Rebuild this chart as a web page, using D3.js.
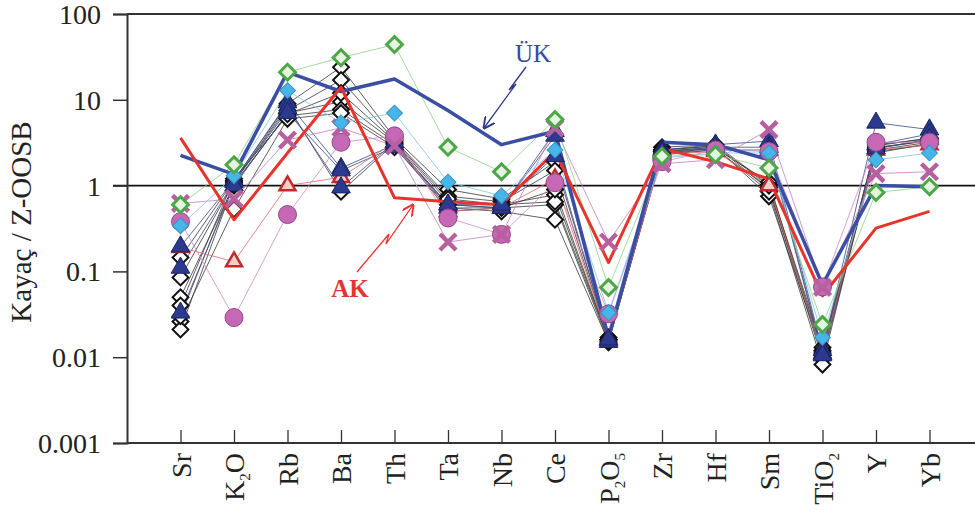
<!DOCTYPE html>
<html>
<head>
<meta charset="utf-8">
<script src="https://cdn.jsdelivr.net/npm/d3@7"></script>
<style>
  body { margin: 0; background: #fff; }
  svg { display: block; }
  text { font-family: "Liberation Serif", "Times New Roman", serif; }
</style>
</head>
<body>
<div id="chart"></div>
<script>
const categories = ["Sr", "K2O", "Rb", "Ba", "Th", "Ta", "Nb", "Ce", "P2O5", "Zr", "Hf", "Sm", "TiO2", "Y", "Yb"];
// tick label parts: [text, isSubscript]
const tickLabels = [
  [["Sr", 0]], [["K", 0], ["2", 1], ["O", 0]], [["Rb", 0]], [["Ba", 0]], [["Th", 0]],
  [["Ta", 0]], [["Nb", 0]], [["Ce", 0]], [["P", 0], ["2", 1], ["O", 0], ["5", 1]],
  [["Zr", 0]], [["Hf", 0]], [["Sm", 0]], [["TiO", 0], ["2", 1]], [["Y", 0]], [["Yb", 0]]
];
const yTicks = [0.001, 0.01, 0.1, 1, 10, 100];

// reference curves
const ukValues = [2.25, 1.35, 21, 12.5, 17.5, 7.5, 3.0, 4.3, 0.017, 3.2, 3.0, 2.0, 0.07, 1.0, 0.97];
const akValues = [3.6, 0.4, 2.4, 14, 0.72, 0.65, 0.6, 2.5, 0.127, 2.7, 1.9, 1.2, 0.052, 0.32, 0.5];

// black open diamonds
const black1 = [0.145, 1.15, 9.0, 24, 3.6, 0.9, 0.7, 1.9, 0.017, 2.8, 3.0, 1.03, 0.013, 2.9, 3.6];
const black2 = [0.085, 1.1, 7.5, 17, 3.4, 0.75, 0.65, 1.5, 0.016, 2.6, 2.9, 0.9, 0.012, 2.7, 3.4];
const black3 = [0.05, 1.0, 7.0, 9.5, 3.2, 0.65, 0.6, 0.78, 0.016, 2.5, 2.8, 0.75, 0.011, 2.6, 3.2];
const black4 = [0.04, 1.2, 6.5, 7.7, 3.0, 0.6, 0.55, 0.6, 0.015, 2.4, 2.7, 1.1, 0.0105, 2.5, 3.0];
const black5 = [0.026, 0.53, 6.0, 7.0, 2.8, 0.55, 0.5, 0.4, 0.015, 2.3, 2.6, 0.95, 0.0095, 2.4, 3.1];
const black6 = [0.021, 1.05, 6.8, 12, 3.3, 0.7, 0.6, 0.65, 0.016, 2.5, 2.7, 0.85, 0.0082, 2.8, 3.3];
const black7 = [0.03, 1.1, 8.5, 0.85, 3.1, 0.5, 0.55, 0.9, 0.016, 2.6, 2.9, 1.0, 0.0115, 3.0, 3.5];

// navy filled triangles
const navy1 = [0.195, 1.15, 9.3, 1.6, 3.0, 0.6, 0.55, 4.3, 0.016, 2.6, 3.0, 3.3, 0.012, 5.4, 4.5];
const navy2 = [0.11, 1.1, 8.0, 0.95, 3.2, 0.55, 0.55, 3.8, 0.015, 2.5, 2.8, 2.8, 0.011, 3.0, 4.0];
const navy3 = [0.033, 1.0, 7.0, 1.5, 2.8, 0.6, 0.6, 2.2, 0.016, 2.4, 2.6, 2.6, 0.0105, 2.7, 3.5];

const redTri = [0.19, 0.13, 1.0, 1.25, 3.2, 0.5, 0.55, 1.2, 0.016, 2.3, 2.5, 1.0, 0.011, 2.6, 3.0];
const pinkCircle = [0.38, 0.029, 0.46, 3.2, 3.8, 0.42, 0.27, 1.08, 0.032, 1.9, 2.6, 2.5, 0.066, 3.2, 3.2];
const purpleX = [0.62, 0.7, 3.4, 4.7, 2.9, 0.22, 0.27, 4.7, 0.22, 1.8, 2.0, 4.5, 0.065, 1.38, 1.45];
const cyanDiamond = [0.34, 1.3, 12.8, 5.4, 7.0, 1.1, 0.76, 2.6, 0.033, 2.1, 2.4, 2.4, 0.017, 2.0, 2.4];
const greenDiamond = [0.6, 1.75, 21, 31, 44, 2.8, 1.45, 5.9, 0.065, 2.2, 2.3, 1.6, 0.024, 0.83, 0.97];

const W = 975, H = 519;
const svg = d3.select("#chart").append("svg").attr("width", W).attr("height", H);

const x = d3.scalePoint().domain(categories).range([127, 983]).padding(1);
const y = d3.scaleLog().domain([0.001, 100]).range([443, 14]);

const line = d3.line().x((d, i) => x(categories[i])).y(d => y(d));

// frame lines
svg.append("line").attr("x1", 127).attr("x2", W).attr("y1", y(100)).attr("y2", y(100))
  .attr("stroke", "#333").attr("stroke-width", 2);
svg.append("line").attr("x1", 113).attr("x2", W).attr("y1", y(1)).attr("y2", y(1))
  .attr("stroke", "#111").attr("stroke-width", 1.6);

// axes
const yAxis = svg.append("g").attr("transform", "translate(127,0)")
  .call(d3.axisLeft(y).tickValues(yTicks).tickSize(14).tickPadding(12).tickFormat(d3.format("~g")));
yAxis.select(".domain").attr("stroke", "#333").attr("stroke-width", 2);
yAxis.selectAll(".tick line").attr("stroke", "#333").attr("stroke-width", 1.5);
yAxis.selectAll(".tick text").attr("font-size", 28).attr("fill", "#222").attr("dy", "0.34em");

const xAxis = svg.append("g").attr("transform", "translate(0,443)")
  .call(d3.axisTop(x).tickSize(13).tickFormat(""));
xAxis.select(".domain").attr("d", "M127,0H" + W).attr("stroke", "#333").attr("stroke-width", 2);
xAxis.selectAll(".tick line").attr("stroke", "#333").attr("stroke-width", 1.3);

// x labels, rotated
categories.forEach((c, i) => {
  const t = svg.append("text")
    .attr("transform", `translate(${x(c) + 10},453) rotate(-90)`)
    .attr("text-anchor", "end")
    .attr("font-size", 28)
    .attr("fill", "#222");
  let shifted = false;
  tickLabels[i].forEach(p => {
    const ts = t.append("tspan").text(p[0]);
    if (p[1]) {
      ts.attr("font-size", 15).attr("dy", 6);
      shifted = true;
    } else if (shifted) {
      ts.attr("dy", -6);
      shifted = false;
    }
  });
});

// y title
svg.append("text")
  .attr("transform", "translate(31,222) rotate(-90)")
  .attr("text-anchor", "middle")
  .attr("font-size", 29)
  .attr("fill", "#222")
  .text("Kayaç / Z-OOSB");

// series
const blackSeries = [black1, black2, black3, black4, black5, black6, black7];
const navySeries = [navy1, navy2, navy3];

function thinLine(vals, color, w) {
  svg.append("path").datum(vals).attr("d", line)
    .attr("fill", "none").attr("stroke", color).attr("stroke-width", w).attr("opacity", 0.9);
}

blackSeries.forEach(s => thinLine(s, "#3a3a3a", 0.9));
navySeries.forEach(s => thinLine(s, "#3c4a8c", 0.9));
thinLine(redTri, "#e06a6a", 0.9);
thinLine(pinkCircle, "#d48ac8", 0.9);
thinLine(purpleX, "#c880bb", 0.9);
thinLine(cyanDiamond, "#80c8ea", 0.9);
thinLine(greenDiamond, "#8ed48a", 0.9);

const diamond = d3.symbol(d3.symbolSquare, 125);
const triangle = d3.symbol(d3.symbolTriangle, 150);

function markers(vals, drawFn) {
  const g = svg.append("g");
  vals.forEach((v, i) => drawFn(g, x(categories[i]), y(v)));
}

blackSeries.forEach(s => markers(s, (g, cx, cy) => {
  g.append("path").attr("d", diamond).attr("transform", `translate(${cx},${cy}) rotate(45)`)
    .attr("fill", "#fff").attr("stroke", "#111").attr("stroke-width", 2);
}));

// thick reference lines
svg.append("path").datum(ukValues).attr("d", line)
  .attr("fill", "none").attr("stroke", "#3a4fa3").attr("stroke-width", 3.5).attr("stroke-linejoin", "round");
svg.append("path").datum(akValues).attr("d", line)
  .attr("fill", "none").attr("stroke", "#e8332c").attr("stroke-width", 3).attr("stroke-linejoin", "round");

markers(redTri, (g, cx, cy) => {
  g.append("path").attr("d", d3.symbol(d3.symbolTriangle, 110)).attr("transform", `translate(${cx},${cy})`)
    .attr("fill", "#f5d0c8").attr("stroke", "#c22a2d").attr("stroke-width", 2.5);
});
navySeries.forEach(s => markers(s, (g, cx, cy) => {
  g.append("path").attr("d", triangle).attr("transform", `translate(${cx},${cy})`)
    .attr("fill", "#2b3a8e").attr("stroke", "#1c2560").attr("stroke-width", 1);
}));
markers(pinkCircle, (g, cx, cy) => {
  g.append("circle").attr("cx", cx).attr("cy", cy).attr("r", 9)
    .attr("fill", "#c768b6").attr("stroke", "#8e4a86").attr("stroke-width", 1);
});
markers(purpleX, (g, cx, cy) => {
  g.append("path").attr("d", `M${cx - 8},${cy - 8}L${cx + 8},${cy + 8}M${cx - 8},${cy + 8}L${cx + 8},${cy - 8}`)
    .attr("stroke", "#b8609f").attr("stroke-width", 4.5).attr("fill", "none");
});
markers(cyanDiamond, (g, cx, cy) => {
  g.append("path").attr("d", diamond).attr("transform", `translate(${cx},${cy}) rotate(45)`)
    .attr("fill", "#46b6e8").attr("stroke", "#3b8fc0").attr("stroke-width", 1);
});
markers(greenDiamond, (g, cx, cy) => {
  g.append("path").attr("d", diamond).attr("transform", `translate(${cx},${cy}) rotate(45)`)
    .attr("fill", "#e4f4de").attr("stroke", "#4ea649").attr("stroke-width", 3);
});

// annotations
svg.append("defs").selectAll("marker").data([["ukArrow", "#2f3a8a"], ["akArrow", "#e8332c"]])
  .join("marker")
  .attr("id", d => d[0]).attr("viewBox", "0 0 10 10").attr("refX", 9).attr("refY", 5)
  .attr("markerWidth", 9).attr("markerHeight", 9).attr("orient", "auto")
  .append("path").attr("d", "M0,0L10,5L0,10").attr("fill", "none")
  .attr("stroke", d => d[1]).attr("stroke-width", 1.6);

svg.append("path").attr("d", "M526,67L509,90L516,84L484,128")
  .attr("fill", "none").attr("stroke", "#2f3a8a").attr("stroke-width", 1.3)
  .attr("marker-end", "url(#ukArrow)");
svg.append("text").attr("x", 533).attr("y", 62).attr("text-anchor", "middle")
  .attr("font-size", 25).attr("fill", "#3a4a9a").text("ÜK");

svg.append("path").attr("d", "M357,272L389,234L386,244L413,205")
  .attr("fill", "none").attr("stroke", "#e8332c").attr("stroke-width", 1.3)
  .attr("marker-end", "url(#akArrow)");
svg.append("text").attr("x", 350).attr("y", 297).attr("text-anchor", "middle")
  .attr("font-size", 25).attr("font-weight", "bold").attr("fill", "#e3342f").text("AK");
</script>
</body>
</html>
